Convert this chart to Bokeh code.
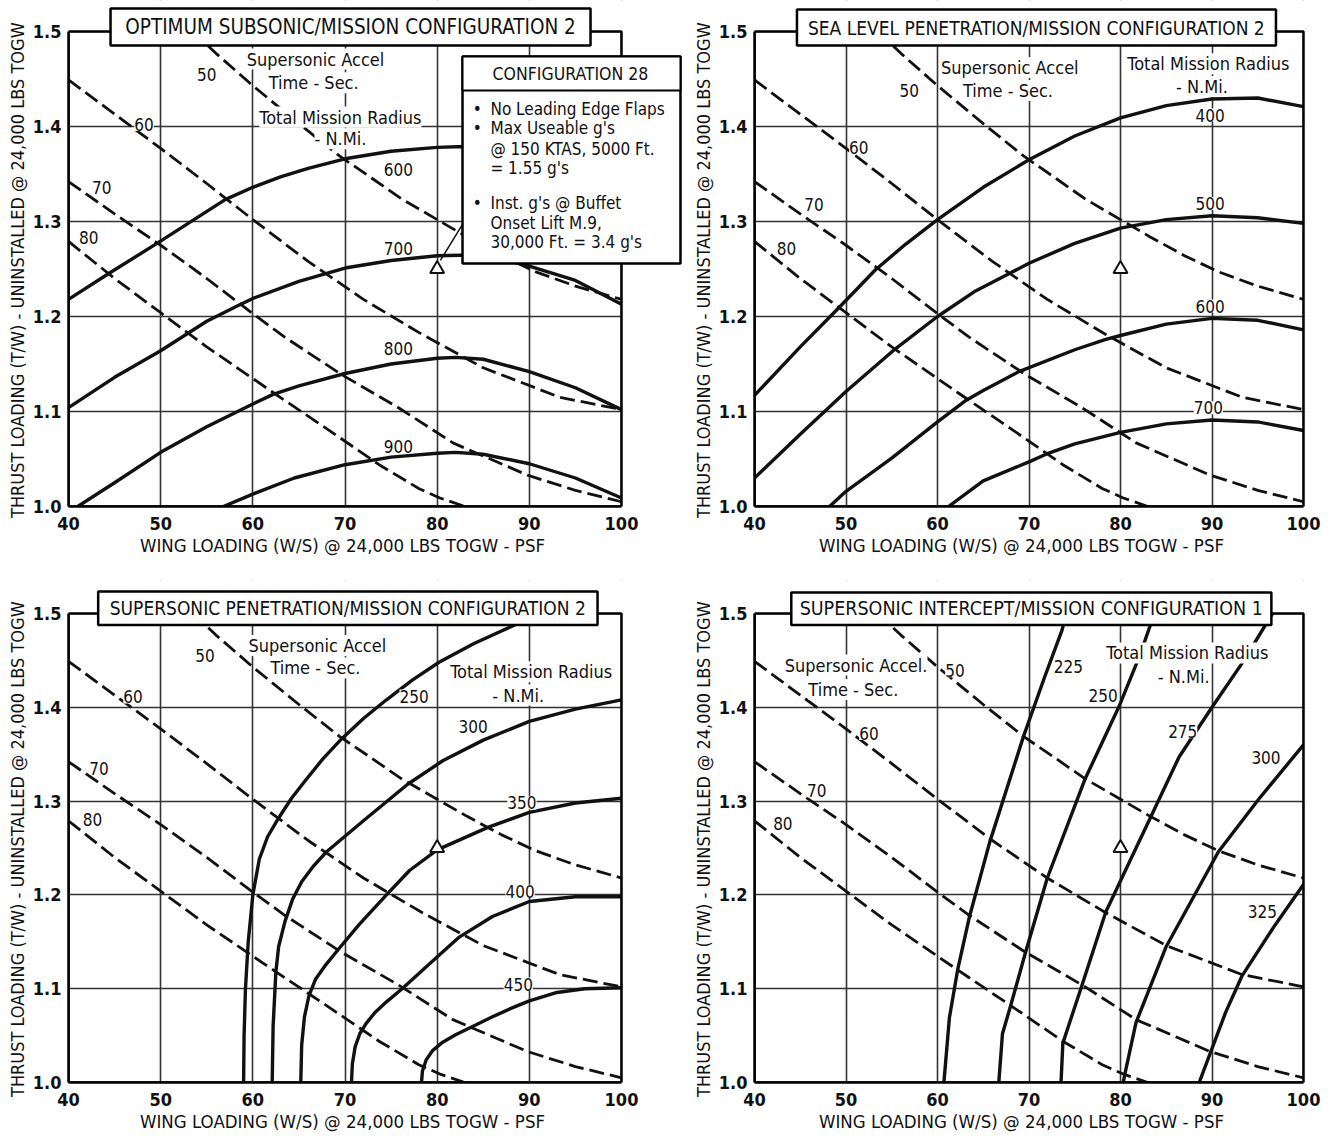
from bokeh.plotting import figure
from bokeh.layouts import row, column
from bokeh.models import (Label, BoxAnnotation, FixedTicker, Title,
                          CustomJSTickFormatter, Arrow)
from bokeh.embed import file_html
from bokeh.resources import INLINE

# ------------------------------------------------------------------ data
x_ticks = [40, 50, 60, 70, 80, 90, 100]
x_tick_labels = ["40", "50", "60", "70", "80", "90", "100"]
y_ticks = [1.0, 1.1, 1.2, 1.3, 1.4, 1.5]
y_tick_labels = ["1.0", "1.1", "1.2", "1.3", "1.4", "1.5"]

x_axis_title = "WING LOADING (W/S) @ 24,000 LBS TOGW - PSF"
y_axis_title = "THRUST LOADING (T/W) - UNINSTALLED @ 24,000 LBS TOGW"

panel_titles = [
    "OPTIMUM SUBSONIC/MISSION CONFIGURATION 2",
    "SEA LEVEL PENETRATION/MISSION CONFIGURATION 2",
    "SUPERSONIC PENETRATION/MISSION CONFIGURATION 2",
    "SUPERSONIC INTERCEPT/MISSION CONFIGURATION 1",
]

# design point (triangle)
design_ws = 80
design_tw = 1.25

# supersonic acceleration time lines (sec) - same in every panel
accel_times = [50, 60, 70, 80]
accel_50_ws = [53.5, 56.0, 60.0, 65.0, 69.4, 73.0, 76.1, 80.0, 83.2, 87.0, 90.7, 95.0, 100.0]
accel_50_tw = [1.500, 1.477, 1.443, 1.403, 1.369, 1.345, 1.324, 1.302, 1.284, 1.264, 1.247, 1.232, 1.218]
accel_60_ws = [40, 45, 50, 55, 60, 66, 72, 78.4, 85, 93.3, 100]
accel_60_tw = [1.449, 1.413, 1.377, 1.340, 1.302, 1.258, 1.218, 1.181, 1.146, 1.115, 1.102]
accel_70_ws = [40, 45, 50, 55, 60, 63.5, 69.6, 75.8, 81.7, 89.8, 95, 100]
accel_70_tw = [1.342, 1.308, 1.275, 1.240, 1.203, 1.178, 1.139, 1.104, 1.067, 1.033, 1.017, 1.005]
accel_80_ws = [40, 45, 50, 55, 62.2, 68.0, 73.7, 78.0, 80.3, 83.0]
accel_80_tw = [1.279, 1.240, 1.204, 1.168, 1.120, 1.082, 1.044, 1.019, 1.009, 1.000]

# total mission radius (N.Mi.) - optimum subsonic
sub_radii = [600, 700, 800, 900]
sub_600_ws = [40, 44.5, 49.6, 57, 60, 63, 66, 70, 75, 80, 83, 86, 90, 95, 100]
sub_600_tw = [1.218, 1.246, 1.277, 1.323, 1.336, 1.347, 1.356, 1.366, 1.374, 1.378, 1.379, 1.377,
              1.372, 1.360, 1.330]
sub_700_ws = [40, 45, 50, 55, 58.3, 60, 65, 70, 75, 80, 85, 90, 95, 100]
sub_700_tw = [1.104, 1.136, 1.164, 1.195, 1.211, 1.219, 1.237, 1.251, 1.259, 1.264, 1.265, 1.253, 1.238, 1.213]
sub_800_ws = [41, 45, 50, 55, 60, 62.2, 65, 70, 75, 80, 82, 85, 90, 95, 100]
sub_800_tw = [1.000, 1.025, 1.057, 1.084, 1.108, 1.118, 1.127, 1.140, 1.150, 1.156, 1.157, 1.155, 1.142, 1.125, 1.102]
sub_900_ws = [56.8, 60, 64.5, 70, 75, 80, 82, 85, 90, 95, 100]
sub_900_tw = [1.000, 1.013, 1.030, 1.044, 1.052, 1.056, 1.057, 1.055, 1.045, 1.030, 1.009]

# sea level penetration
sea_radii = [400, 500, 600, 700]
sea_400_ws = [40, 45, 49.3, 53.2, 56.5, 60, 65, 70, 75, 80, 85, 90, 95, 100]
sea_400_tw = [1.117, 1.168, 1.210, 1.249, 1.276, 1.302, 1.336, 1.365, 1.390, 1.409, 1.422, 1.429, 1.430, 1.421]
sea_500_ws = [40, 45, 50, 55.4, 60, 64, 67.8, 70, 75, 80, 85, 90, 95, 100]
sea_500_tw = [1.030, 1.076, 1.121, 1.166, 1.200, 1.226, 1.245, 1.256, 1.277, 1.293, 1.302, 1.306, 1.304, 1.298]
sea_600_ws = [48.2, 50, 55, 60, 63, 65, 68.9, 75, 78.4, 80, 85, 90, 95, 100]
sea_600_tw = [1.000, 1.016, 1.051, 1.089, 1.111, 1.122, 1.142, 1.165, 1.176, 1.180, 1.192, 1.198, 1.196, 1.186]
sea_700_ws = [61.2, 65, 70, 72.1, 75, 80, 85, 90, 95, 100]
sea_700_tw = [1.000, 1.027, 1.047, 1.056, 1.066, 1.078, 1.087, 1.091, 1.089, 1.080]

# supersonic penetration
spen_radii = [250, 300, 350, 400, 450]
spen_250_ws = [59.0, 59.05, 59.2, 59.5, 60.0, 60.7, 61.6, 62.8, 64.2, 65.7, 67.6, 69.6,
               72.0, 74.5, 77.3, 80.2, 84.0, 88.0, 91.0]
spen_250_tw = [1.000, 1.050, 1.100, 1.150, 1.200, 1.238, 1.262, 1.282, 1.303, 1.322, 1.345, 1.366,
               1.388, 1.408, 1.429, 1.448, 1.468, 1.486, 1.500]
spen_300_ws = [62.1, 62.2, 62.5, 62.8, 63.5, 64.3, 65.3, 66.6, 68.0, 72.0, 76.8, 80.6, 85, 90, 95, 100]
spen_300_tw = [1.000, 1.060, 1.118, 1.145, 1.172, 1.195, 1.214, 1.231, 1.246, 1.279, 1.318, 1.343,
               1.365, 1.385, 1.398, 1.408]
spen_350_ws = [65.2, 65.3, 65.6, 66.1, 66.8, 67.8, 69.2, 71.5, 74.5, 77, 80, 85.5, 90, 95, 100]
spen_350_tw = [1.000, 1.040, 1.070, 1.093, 1.110, 1.124, 1.141, 1.168, 1.200, 1.226, 1.248, 1.272,
               1.288, 1.298, 1.303]
spen_400_ws = [70.7, 70.8, 71.1, 71.6, 72.3, 73.2, 74.5, 76.2, 79, 82.4, 86, 90, 95, 100]
spen_400_tw = [1.000, 1.020, 1.038, 1.052, 1.063, 1.074, 1.086, 1.100, 1.125, 1.155, 1.177, 1.193,
               1.198, 1.198]
spen_450_ws = [78.3, 78.4, 78.8, 79.5, 80.6, 82, 83.9, 86, 88, 90, 93, 96, 100]
spen_450_tw = [1.000, 1.012, 1.024, 1.034, 1.043, 1.051, 1.060, 1.070, 1.079, 1.087, 1.096, 1.100, 1.101]

# supersonic intercept
sint_radii = [225, 250, 275, 300, 325]
sint_225_ws = [60.7, 61.3, 62.2, 63.5, 65.7, 69.4, 71.7, 73.6, 74.1]
sint_225_tw = [1.000, 1.069, 1.120, 1.177, 1.256, 1.369, 1.432, 1.482, 1.500]
sint_250_ws = [66.7, 67.1, 68.0, 69.6, 72.0, 76.1, 79.8, 82.1, 83.7]
sint_250_tw = [1.000, 1.052, 1.082, 1.138, 1.218, 1.323, 1.400, 1.455, 1.500]
sint_275_ws = [73.5, 73.7, 75.8, 78.4, 83.2, 86.4, 90.0, 93.5, 96.6]
sint_275_tw = [1.000, 1.042, 1.104, 1.182, 1.281, 1.347, 1.400, 1.450, 1.500]
sint_300_ws = [80.3, 80.5, 81.7, 85.0, 90.7, 95.1, 100]
sint_300_tw = [1.000, 1.010, 1.064, 1.145, 1.246, 1.302, 1.360]
sint_325_ws = [88.6, 89.8, 91.5, 93.3, 96.9, 100]
sint_325_tw = [1.000, 1.031, 1.075, 1.114, 1.168, 1.211]

# ------------------------------------------------------------------ layout / style
FONT = "DejaVu Sans Condensed"
INK = "#111111"
X0, X1, Y0, Y1 = 40, 100, 1.0, 1.5
X_TITLE_W = 404          # approx. rendered width of the x-axis title (18.5px)
Y_TITLE_W = 490          # approx. rendered length of the y-axis title (18px)

accel_lines = [(accel_50_ws, accel_50_tw), (accel_60_ws, accel_60_tw),
               (accel_70_ws, accel_70_tw), (accel_80_ws, accel_80_tw)]

# w/h: figure size; bl/bb: left/bottom border; cw/ch: chart (40..100 x 1.0..1.5) size;
# ct: gap from figure top to chart top (room for the title box);
# xr: how far the plotting frame runs past the chart on the right (room for call-outs);
# xdx: horizontal nudge of the x-axis title from the chart centre
TOP = dict(h=580, bb=74, ch=475, ct=31)
BOT = dict(h=565, bb=63, ch=469, ct=33)
LEFT = dict(w=684, bl=68, cw=553, xdx=-3)
RIGHT = dict(w=647, bl=70, cw=549, xdx=-8)

panels = [
    dict(title=panel_titles[0], tsize="20.5px", xr=63, **TOP, **LEFT,
         curves=[(sub_600_ws, sub_600_tw), (sub_700_ws, sub_700_tw),
                 (sub_800_ws, sub_800_tw), (sub_900_ws, sub_900_tw)],
         radii=sub_radii,
         radius_pos=[(75.8, 1.355), (75.8, 1.272), (75.8, 1.166), (75.8, 1.063)],
         accel_pos=[(55.0, 1.455), (48.2, 1.402), (43.6, 1.336), (42.2, 1.283)],
         accel_txt=("Supersonic Accel", (66.8, 1.471), (66.6, 1.446)),
         radius_txt=((69.5, 1.410), (69.5, 1.387)),
         tbox=(44.56, 96.64, 1.4853, 1.5242), tpos=(70.6, 1.5047)),
    dict(title=panel_titles[1], tsize="19px", xr=3, **TOP, **RIGHT,
         curves=[(sea_400_ws, sea_400_tw), (sea_500_ws, sea_500_tw),
                 (sea_600_ws, sea_600_tw), (sea_700_ws, sea_700_tw)],
         radii=sea_radii,
         radius_pos=[(89.8, 1.412), (89.8, 1.319), (89.8, 1.211), (89.6, 1.104)],
         accel_pos=[(56.9, 1.438), (51.4, 1.378), (46.5, 1.318), (43.5, 1.272)],
         accel_txt=("Supersonic Accel", (67.9, 1.462), (67.7, 1.438)),
         radius_txt=((89.6, 1.466), (88.9, 1.442)),
         tbox=(44.64, 96.99, 1.4853, 1.5232), tpos=(70.8, 1.5042)),
    dict(title=panel_titles[2], tsize="19px", xr=63, **BOT, **LEFT,
         curves=[(spen_250_ws, spen_250_tw), (spen_300_ws, spen_300_tw),
                 (spen_350_ws, spen_350_tw), (spen_400_ws, spen_400_tw),
                 (spen_450_ws, spen_450_tw)],
         radii=spen_radii,
         radius_pos=[(77.5, 1.412), (83.9, 1.380), (89.2, 1.298), (89.0, 1.204), (88.8, 1.105)],
         accel_pos=[(54.8, 1.455), (47.0, 1.411), (43.3, 1.335), (42.6, 1.280)],
         accel_txt=("Supersonic Accel", (67.0, 1.466), (66.8, 1.442)),
         radius_txt=((90.2, 1.438), (88.8, 1.413)),
         tbox=(43.22, 97.4, 1.4877, 1.5235), tpos=(70.3, 1.5056)),
    dict(title=panel_titles[3], tsize="19.5px", xr=3, **BOT, **RIGHT,
         curves=[(sint_225_ws, sint_225_tw), (sint_250_ws, sint_250_tw),
                 (sint_275_ws, sint_275_tw), (sint_300_ws, sint_300_tw),
                 (sint_325_ws, sint_325_tw)],
         radii=sint_radii,
         radius_pos=[(74.3, 1.443), (78.1, 1.413), (86.8, 1.374), (95.9, 1.346), (95.5, 1.182)],
         accel_pos=[(61.9, 1.439), (52.5, 1.372), (46.8, 1.311), (43.1, 1.276)],
         accel_txt=("Supersonic Accel.", (51.1, 1.445), (50.8, 1.419)),
         radius_txt=((87.3, 1.458), (86.9, 1.433)),
         tbox=(44.02, 96.49, 1.4877, 1.5224), tpos=(70.25, 1.5050)),
]

FMT_CODE = ("const i = tvals.findIndex((t) => Math.abs(t - tick) < 1e-6); "
            "return i < 0 ? '' : tlabels[i];")


def txt(p, x, y, s, size="18px", align="center", bg=True):
    lab = Label(x=x, y=y, text=s, text_font=FONT, text_font_size=size,
                text_align=align, text_baseline="middle", text_color=INK)
    if bg:
        lab.background_fill_color = "white"
        lab.background_fill_alpha = 1.0
    p.add_layout(lab)


def make_panel(spec):
    # The plotting frame runs up to the figure's top edge (and, for the left panels,
    # its right edge) so the boxed notes overhanging the chart border are not clipped.
    x_end = X1 + spec["xr"] * (X1 - X0) / spec["cw"]
    y_end = Y1 + spec["ct"] * (Y1 - Y0) / spec["ch"]
    br = spec["w"] - spec["bl"] - spec["cw"] - spec["xr"]
    p = figure(width=spec["w"], height=spec["h"], x_range=(X0, x_end), y_range=(Y0, y_end),
               output_backend="svg", toolbar_location=None,
               min_border_left=spec["bl"], min_border_right=br,
               min_border_top=0, min_border_bottom=spec["bb"])
    p.outline_line_color = None
    p.background_fill_color = "white"
    p.border_fill_color = "white"

    p.xaxis.ticker = FixedTicker(ticks=x_ticks)
    p.yaxis.ticker = FixedTicker(ticks=y_ticks)
    p.xaxis.formatter = CustomJSTickFormatter(
        args=dict(tvals=x_ticks, tlabels=x_tick_labels), code=FMT_CODE)
    p.yaxis.formatter = CustomJSTickFormatter(
        args=dict(tvals=y_ticks, tlabels=y_tick_labels), code=FMT_CODE)
    p.xaxis.bounds = (X0, X1)
    p.yaxis.bounds = (Y0, Y1)
    for ax in (p.xaxis[0], p.yaxis[0]):
        ax.axis_line_color = "black"
        ax.axis_line_width = 2.5
        ax.major_tick_out = 0
        ax.major_tick_in = 0
        ax.minor_tick_line_color = None
        ax.major_label_text_font = FONT
        ax.major_label_text_font_size = "18px"
        ax.major_label_text_font_style = "bold"
        ax.major_label_text_color = INK
    p.xaxis.major_label_standoff = 10
    p.yaxis.major_label_standoff = 7

    # axis titles: placed as side titles so they can be centred on the chart
    # (the plotting frame is larger than the chart)
    y_off = spec["ch"] / 2 - 4 - Y_TITLE_W / 2
    p.add_layout(Title(text=y_axis_title, align="left", offset=y_off, standoff=4,
                       text_font=FONT, text_font_size="18px", text_font_style="normal",
                       text_color=INK), "left")
    x_off = spec["cw"] / 2 + spec["xdx"] - X_TITLE_W / 2
    p.add_layout(Title(text=x_axis_title, align="left", offset=x_off, standoff=0,
                       text_font=FONT, text_font_size="18.5px", text_font_style="normal",
                       text_color=INK), "below")

    p.grid.grid_line_color = "#333333"
    p.grid.grid_line_width = 1.6

    # accel-time dashed lines
    for xs, ys in accel_lines:
        p.line(xs, ys, line_color=INK, line_width=2.8, line_dash="15 6")
    # mission radius solid curves
    for xs, ys in spec["curves"]:
        p.line(xs, ys, line_color=INK, line_width=3.4, line_join="round", line_cap="round")
    # design point
    p.scatter([design_ws], [design_tw], marker="triangle", size=14,
              fill_color="white", line_color=INK, line_width=2)

    # hide grid beyond the chart, then draw the chart border
    p.add_layout(BoxAnnotation(left=X1, right=x_end, bottom=Y0, top=y_end,
                               fill_color="white", fill_alpha=1.0, line_alpha=0))
    p.add_layout(BoxAnnotation(left=X0, right=x_end, bottom=Y1, top=y_end,
                               fill_color="white", fill_alpha=1.0, line_alpha=0))
    p.add_layout(BoxAnnotation(left=X0, right=X1, bottom=Y0, top=Y1,
                               fill_alpha=0, line_color="black", line_width=2.5,
                               line_alpha=1.0))

    # labels
    for t, (lx, ly) in zip(accel_times, spec["accel_pos"]):
        txt(p, lx, ly, str(t), size="17px")
    for r, (lx, ly) in zip(spec["radii"], spec["radius_pos"]):
        txt(p, lx, ly, str(r), size="17px")
    s, pos1, pos2 = spec["accel_txt"]
    txt(p, pos1[0], pos1[1], s)
    txt(p, pos2[0], pos2[1], "Time - Sec.")
    rp1, rp2 = spec["radius_txt"]
    txt(p, rp1[0], rp1[1], "Total Mission Radius")
    txt(p, rp2[0], rp2[1], "- N.Mi.")

    # title box
    l, r, b, t = spec["tbox"]
    p.add_layout(BoxAnnotation(left=l, right=r, bottom=b, top=t, fill_color="white",
                               fill_alpha=1.0, line_color="black", line_width=2.5,
                               line_alpha=1.0))
    txt(p, spec["tpos"][0], spec["tpos"][1], spec["title"], size=spec["tsize"], bg=False)
    return p


plots = [make_panel(s) for s in panels]

# configuration call-out on the first panel
p1 = plots[0]
p1.add_layout(Arrow(end=None, x_start=80.35, y_start=1.259, x_end=82.75, y_end=1.297,
                    line_color=INK, line_width=1.5))
p1.add_layout(BoxAnnotation(left=82.75, right=106.4, bottom=1.2558, top=1.4737,
                            fill_color="white", fill_alpha=1.0, line_color="black",
                            line_width=2.5, line_alpha=1.0))
p1.add_layout(BoxAnnotation(left=82.75, right=106.4, bottom=1.4379, top=1.4737,
                            fill_color="white", fill_alpha=1.0, line_color="black",
                            line_width=2.0, line_alpha=1.0))
txt(p1, 94.46, 1.4550, "CONFIGURATION 28", size="17.5px", bg=False)
config_lines = [
    ("\u2022", "No Leading Edge Flaps", 1.4189),
    ("\u2022", "Max Useable g's", 1.3979),
    ("", "@ 150 KTAS, 5000 Ft.", 1.3768),
    ("", "= 1.55 g's", 1.3558),
    ("\u2022", "Inst. g's @ Buffet", 1.3200),
    ("", "Onset Lift M.9,", 1.2989),
    ("", "30,000 Ft. = 3.4 g's", 1.2789),
]
for bullet, line, ly in config_lines:
    if bullet:
        txt(p1, 84.34, ly, bullet, size="17px", bg=False)
    txt(p1, 85.78, ly, line, size="17px", align="left", bg=False)

layout = column(row(plots[0], plots[1]), row(plots[2], plots[3]))

with open("out.html", "w") as f:
    f.write(file_html(layout, INLINE))
